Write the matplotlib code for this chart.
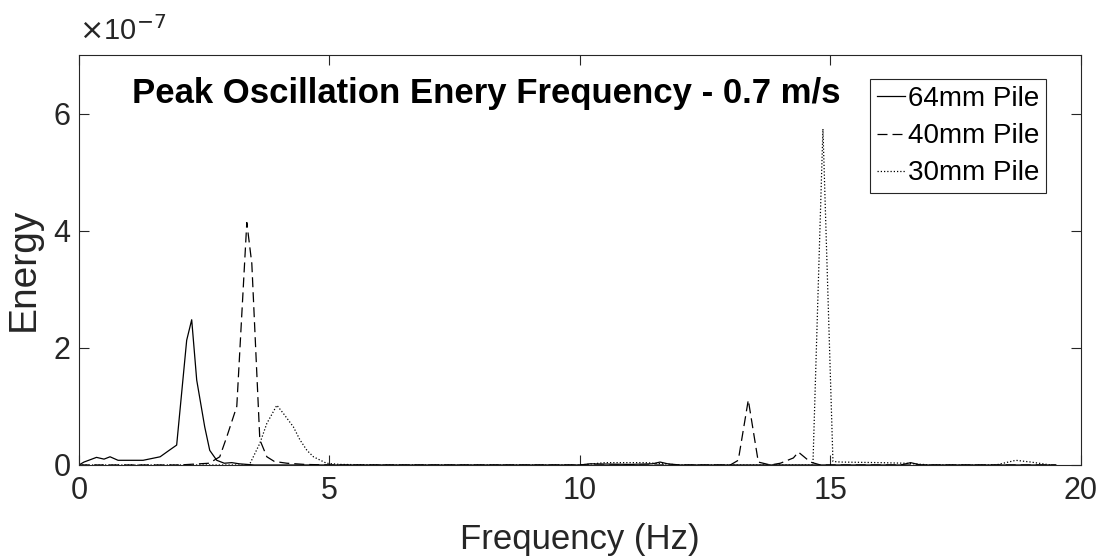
import matplotlib as mpl
mpl.use('Agg')
import matplotlib.pyplot as plt

plt.rcParams['font.family'] = ['Liberation Sans', 'DejaVu Sans']

# energies are in units of 1e-7
freq_64 = [0, 0.1, 0.35, 0.5, 0.62, 0.78, 1.0, 1.28, 1.62, 1.8, 1.95, 2.15, 2.25, 2.35,
           2.51, 2.61, 2.75, 2.9, 3.05, 3.2, 3.5, 4.0, 5.0, 8.0, 10.0, 10.2, 11.0, 11.45,
           11.6, 11.75, 12.0, 13.0, 14.0, 16.4, 16.6, 16.8, 17.5, 19.5]
energy_64 = [0, 0.05, 0.13, 0.1, 0.14, 0.08, 0.08, 0.08, 0.14, 0.25, 0.34, 2.13, 2.48, 1.45,
             0.65, 0.25, 0.08, 0.03, 0.04, 0.02, 0.0, 0.0, 0.0, 0.0, 0.0, 0.02, 0.01, 0.02,
             0.05, 0.02, 0.0, 0.0, 0.0, 0.0, 0.04, 0.0, 0.0, 0.0]

freq_40 = [0, 1.0, 2.0, 2.6, 2.81, 2.95, 3.15, 3.35, 3.45, 3.61, 3.75, 3.9, 4.15, 4.5, 5.0,
           10, 12, 13.0, 13.16, 13.36, 13.56, 13.8, 14.0, 14.26, 14.36, 14.6, 14.8, 16, 19.5]
energy_40 = [0, 0, 0, 0.03, 0.14, 0.48, 1.0, 4.14, 3.44, 0.43, 0.14, 0.06, 0.03, 0.01, 0,
             0, 0, 0, 0.08, 1.11, 0.05, 0.0, 0.03, 0.12, 0.22, 0.05, 0.0, 0.0, 0.0]

freq_30 = [0, 1, 2, 3, 3.4, 3.48, 3.61, 3.75, 3.95, 4.08, 4.28, 4.41, 4.55, 4.68, 4.94, 5.2,
           6, 8, 10, 10.5, 11.3, 12, 13, 14, 14.65, 14.85, 15.05, 15.2, 16.0, 16.5, 17, 18.3,
           18.7, 19.0, 19.4]
energy_30 = [0, 0, 0, 0, 0, 0.14, 0.37, 0.71, 1.02, 0.88, 0.65, 0.43, 0.25, 0.14, 0.03, 0.01,
             0, 0, 0, 0.04, 0.04, 0, 0, 0, 0, 5.74, 0.06, 0.05, 0.04, 0.03, 0, 0,
             0.08, 0.05, 0]

labels = ['64mm Pile', '40mm Pile', '30mm Pile']
x_ticks = [0, 5, 10, 15, 20]
y_ticks = [0, 2, 4, 6]

axcol = '#262626'
fig = plt.figure(figsize=(11.03, 5.56), dpi=100)
ax = fig.add_axes([0.0716, 0.1637, 0.9084, 0.7373])

ax.plot(freq_64, energy_64, color='black', lw=0.9, label=labels[0])
ax.plot(freq_40, energy_40, color='black', lw=0.9, dashes=(8, 4), label=labels[1])
ax.plot(freq_30, energy_30, color='black', lw=0.9, dashes=(1, 1.6), label=labels[2])

ax.set_xlim(0, 20)
ax.set_ylim(0, 7)
ax.set_xticks(x_ticks)
ax.set_yticks(y_ticks)
ax.tick_params(direction='in', length=7, width=0.8, color=axcol, labelsize=22,
               labelcolor=axcol, top=True, right=True)
ax.tick_params(axis='x', pad=8)
ax.tick_params(axis='y', pad=6)
for s in ax.spines.values():
    s.set_color(axcol)
    s.set_linewidth(0.8)

ax.set_xlabel('Frequency (Hz)', fontsize=25, color=axcol, labelpad=12)
ax.set_ylabel('Energy', fontsize=28, color=axcol)
ax.yaxis.set_label_coords(-0.037, 0.478)

fig.text(0.072, 0.945, r'$\times$10$^{-7}$', fontsize=21, color=axcol, va='center')

ax.text(0.0526, 0.905, 'Peak Oscillation Enery Frequency - 0.7 m/s', transform=ax.transAxes,
        fontsize=25, fontweight='bold', va='center', ha='left')

leg = ax.legend(loc='upper right', bbox_to_anchor=(0.965, 0.941), borderaxespad=0,
                fontsize=20, handlelength=1.0, handletextpad=0.1, labelspacing=0.4,
                borderpad=0.25, fancybox=False, framealpha=1, edgecolor=axcol)
leg.get_frame().set_linewidth(0.8)

plt.savefig('out.png', dpi=100)
plt.close('all')
